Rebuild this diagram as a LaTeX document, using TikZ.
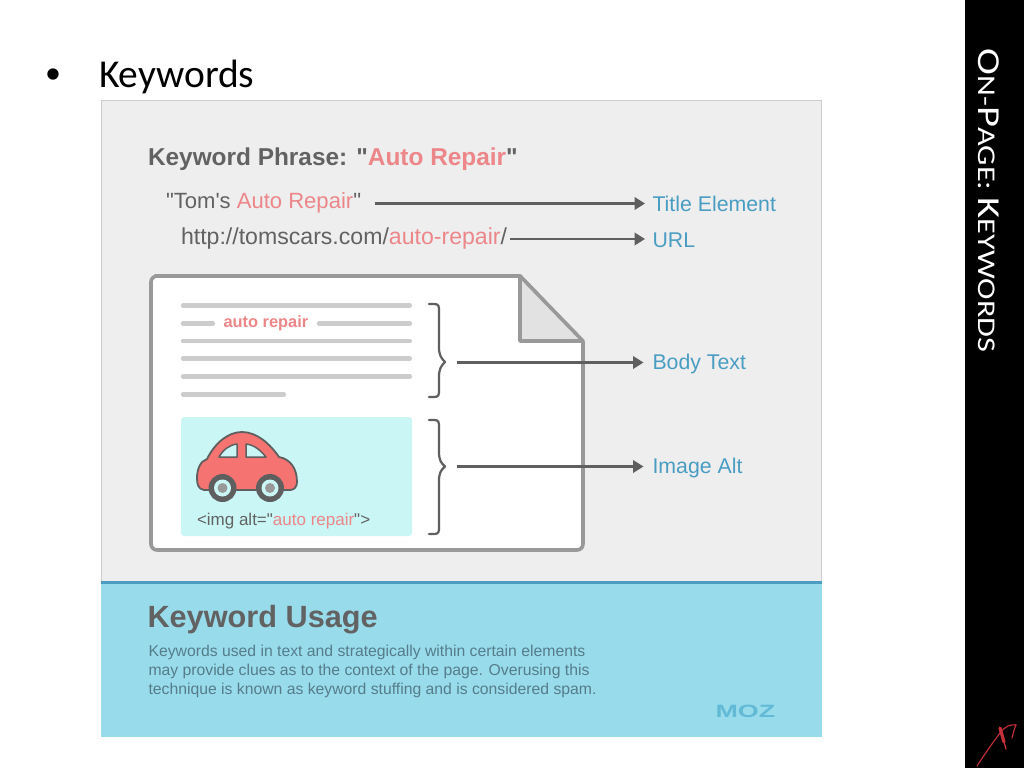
\documentclass[tikz,border=0pt]{standalone}
\usepackage{fontspec}
\newfontfamily\mainf{Liberation Sans}
\newfontfamily\slidefont{Carlito}
\usetikzlibrary{arrows.meta}
\definecolor{panelgray}{HTML}{EEEEEF}
\definecolor{bandblue}{HTML}{98DCEC}
\definecolor{bandline}{HTML}{4A9CC0}
\definecolor{txtgray}{HTML}{626262}
\definecolor{paragray}{HTML}{567C8A}
\definecolor{hl}{HTML}{EC8688}
\definecolor{lblblue}{HTML}{4A9DC2}
\definecolor{docline}{HTML}{999999}
\definecolor{rulegray}{HTML}{CCCCCC}
\definecolor{imgbg}{HTML}{CAF6F5}
\definecolor{carred}{HTML}{F57370}
\definecolor{arrowgray}{HTML}{5F5F5F}
\definecolor{mozblue}{HTML}{62BAD6}
\definecolor{foldgray}{HTML}{E2E2E2}
\definecolor{logored}{HTML}{C8303A}
\newcommand{\hlt}[1]{\textcolor{hl}{#1}}
\tikzset{
  x=1pt,y=-1pt,
  every node/.style={inner sep=0pt,outer sep=1pt,anchor=west},
  maintxt/.style={text=txtgray,font=\mainf\fontsize{22.05}{24}\selectfont},
  lbl/.style={text=lblblue,font=\mainf\fontsize{21.3}{24}\selectfont},
  para/.style={text=paragray,font=\mainf\fontsize{15.75}{19}\selectfont,align=left},
  conn/.style={draw=arrowgray,line width=2.2pt,-{Triangle[length=10.5pt,width=12.5pt]}},
  txtrule/.style={draw=rulegray,line width=4.2pt,line cap=round},
  bracestyle/.style={draw=arrowgray,line width=2.2pt,line cap=round,line join=round}
}
\begin{document}
\begin{tikzpicture}
\useasboundingbox (0,0) rectangle (1024,768);
\fill[white] (0,0) rectangle (1024,768);
\fill[black] (965,0) rectangle (1024,768);
% slide text
\node[font=\slidefont\fontsize{32}{36}\selectfont] (bullet) at (44,76) {•};
\node[font=\slidefont\fontsize{39.5}{42}\selectfont] (kw) at (98,77) {Keywords};
\node[text=white,rotate=-90,anchor=center,font=\slidefont] (side) at (988.5,200.5)
 {\scalebox{1.266}[1]{\fontsize{32}{36}\selectfont O\fontsize{25.5}{36}\selectfont N-\fontsize{32}{36}\selectfont P\fontsize{25.5}{36}\selectfont AGE: \fontsize{32}{36}\selectfont K\fontsize{25.5}{36}\selectfont EYWORDS}};
% panels
\fill[panelgray] (101,100) rectangle (822,582);
\draw[rulegray,line width=1pt] (101,100.5) -- (822,100.5);
\draw[rulegray,line width=1pt] (101.5,100) -- (101.5,582);
\draw[rulegray,line width=1pt] (821.5,100) -- (821.5,582);
\fill[bandblue] (101,582) rectangle (822,737);
\fill[bandline] (101,580.5) rectangle (822,583.5);
% header
\node[text=txtgray,font=\mainf\fontsize{24.4}{26}\selectfont\bfseries] (head) at (147,159) {Keyword Phrase: "\hlt{Auto Repair}"};
\node[maintxt] (t1) at (165,203) {"Tom's \hlt{Auto Repair}"};
\node[maintxt,font=\mainf\fontsize{23.1}{24}\selectfont] (t2) at (180,239) {http://tomscars.com/\hlt{auto-repair}/};
\node[lbl] (l1) at (651.5,204) {Title Element};
\node[lbl] (l2) at (651.5,240.5) {URL};
\node[lbl] (l3) at (651.5,364) {Body Text};
\node[lbl] (l4) at (651.5,468) {Image Alt};
% document
\draw[docline,line width=3.6pt,line join=round,fill=white]
 (155,276) -- (520,276) -- (583,342) -- (583,544) arc[start angle=0,end angle=90,radius=6] -- (157,550)
 arc[start angle=90,end angle=180,radius=6] -- (151,282) arc[start angle=180,end angle=270,radius=6] -- cycle;
\draw[docline,line width=3.6pt,line join=round,fill=foldgray] (520,276) -- (583,341) -- (520,341) -- cycle;
% text rules
\foreach \yy in {305.5,341,358.5,376.5}{\draw[txtrule] (183,\yy) -- (410,\yy);}
\draw[txtrule] (183,323.5) -- (213,323.5);
\draw[txtrule] (319,323.5) -- (410,323.5);
\draw[txtrule] (183,394.5) -- (284,394.5);
\node[text=hl,font=\mainf\fontsize{16.4}{18}\selectfont\bfseries] (ar) at (222.5,323.5) {auto repair};
% image box
\fill[imgbg,rounded corners=3pt] (181,417) rectangle (412,536);
\node[text=txtgray,font=\mainf\fontsize{17}{19}\selectfont] (alt) at (196,521.5) {<img alt="\hlt{auto repair}">};
% car
\draw[arrowgray,line width=1.8pt,fill=carred,line join=round]
 (204,490) .. controls (198,489) and (197,484) .. (197,478)
 .. controls (197,470) and (200,461) .. (207,459)
 .. controls (215,443) and (228,432) .. (242,432)
 .. controls (257,432) and (270,444) .. (279,457)
 .. controls (290,459) and (297,468) .. (297,482)
 .. controls (297,487) and (294,490) .. (290,490) -- cycle;
\draw[arrowgray,line width=1.5pt,fill=imgbg,line join=round] (219,457) .. controls (223,450) and (229,445) .. (237,444) -- (237,457) -- cycle;
\draw[arrowgray,line width=1.5pt,fill=imgbg,line join=round] (246,444) .. controls (255,445) and (261,451) .. (266,457) -- (246,457) -- cycle;
\foreach \xx in {222.5,270}{
 \fill[arrowgray] (\xx,488) circle (14);
 \fill[imgbg] (\xx,488) circle (8.5);
 \fill[docline] (\xx,488) circle (5);
}
% braces
\draw[bracestyle] (429,304) -- (434,304) .. controls (439,304) and (439,306) .. (439,312) -- (439,347)
 .. controls (439,355) and (441,358) .. (445,362) .. controls (441,366) and (439,369) .. (439,377) -- (439,389)
 .. controls (439,395) and (439,397) .. (434,397) -- (429,397);
\draw[bracestyle] (429,420) -- (434,420) .. controls (439,420) and (439,422) .. (439,428) -- (439,452)
 .. controls (439,460) and (441,463) .. (445,466.5) .. controls (441,470) and (439,473) .. (439,481) -- (439,526)
 .. controls (439,532) and (439,534) .. (434,534) -- (429,534);
% connectors
\coordinate (a1) at (375,203.5);
\coordinate (a2) at (510,239);
\coordinate (s3) at (456.5,362.5);
\coordinate (s4) at (456.5,466.5);
\coordinate (e1) at (645,203.5);
\coordinate (e2) at (645,239);
\coordinate (e3) at (643.5,362.5);
\coordinate (e4) at (643.5,466.5);
\draw[conn] (a1) -- (e1);
\draw[conn] (a2) -- (e2);
\draw[conn] (s3) -- (e3);
\draw[conn] (s4) -- (e4);
% band text
\node[text=txtgray,font=\mainf\fontsize{30.7}{33}\selectfont\bfseries] (ku) at (146.5,620) {Keyword Usage};
\node[para,anchor=north west] (pp) at (147.5,644.5) {Keywords used in text and strategically within certain elements\\may provide clues as to the context of the page. Overusing this\\technique is known as keyword stuffing and is considered spam.};
\node[text=mozblue,font=\mainf\fontsize{21}{22}\selectfont\bfseries] (moz) at (714.5,711) {\scalebox{1.28}[0.85]{MOZ}};
% logo
\draw[logored,line width=1.1pt,line cap=round] (977,766) .. controls (986,752) and (994,741) .. (1000,733) .. controls (1005,726) and (1011,724) .. (1016,725);
\draw[logored,line width=3.2pt,line cap=round] (1000,728) -- (1004,742);
\draw[logored,line width=1.3pt,line cap=round] (1004,742) -- (1006,749);
\draw[logored,line width=1.1pt,line cap=round] (1016,725) .. controls (1014,729) and (1013,734) .. (1012,738);
\end{tikzpicture}
\end{document}
